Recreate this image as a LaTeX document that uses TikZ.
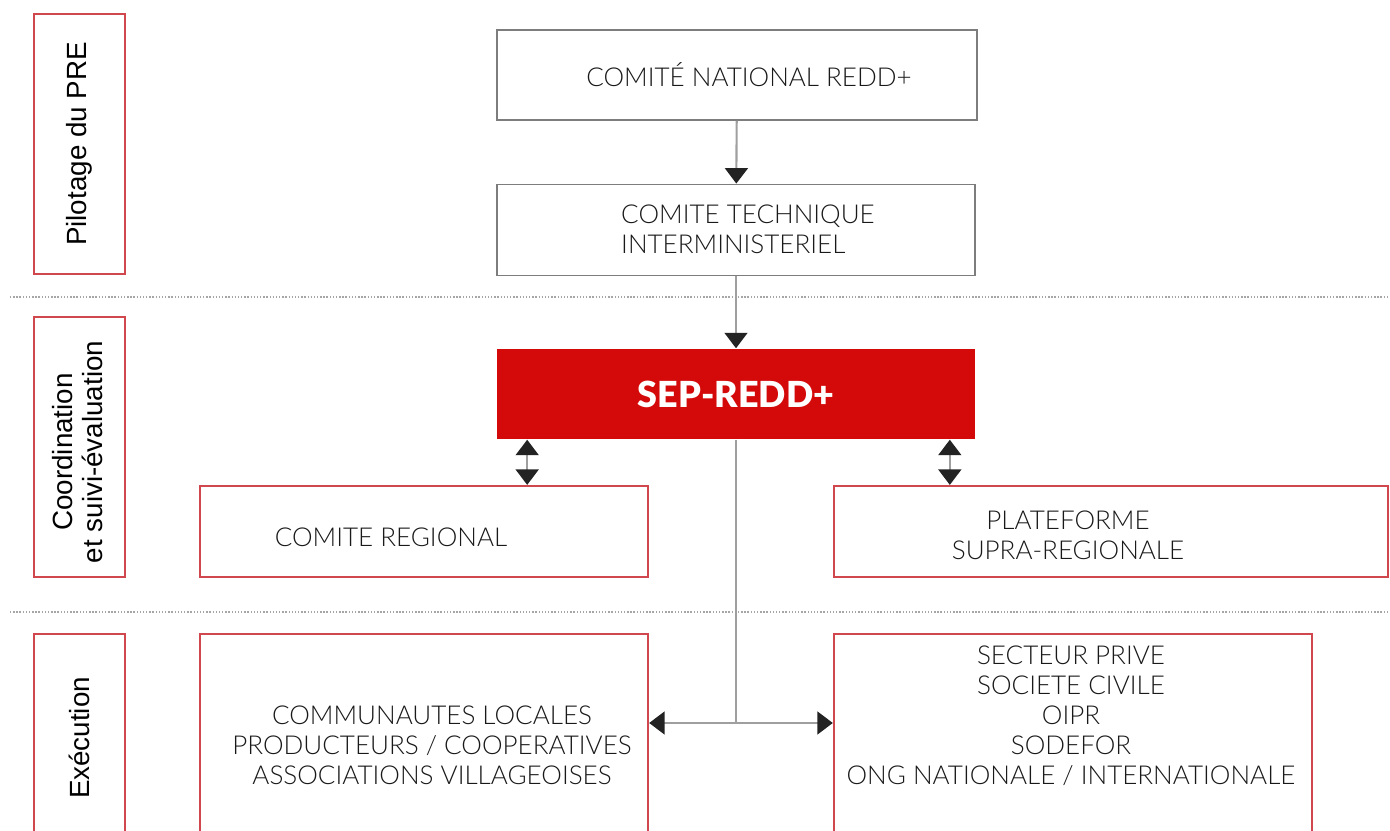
\documentclass[tikz,border=0pt]{standalone}
\usepackage{fontspec}
\setmainfont{Lato Light}[BoldFont=Lato Black]
\newfontfamily\sidefont{Liberation Sans}
\usetikzlibrary{arrows.meta,positioning}
\definecolor{sepred}{RGB}{212,10,10}
\definecolor{framered}{RGB}{208,72,78}
\definecolor{framegray}{RGB}{125,125,125}
\definecolor{tipdark}{RGB}{35,35,35}

\begin{document}
\begin{tikzpicture}[x=0.01cm, y=-0.01cm]
        \tikzstyle{block} = [rectangle, draw=framegray, line width=0.5pt, inner sep=0pt]
        \tikzstyle{redblock} = [rectangle, draw=framered, line width=0.6pt, inner sep=0pt]
        \tikzstyle{phase} = [redblock, minimum width=0.91cm]
        \tikzstyle{txt} = [inner sep=0pt, align=center, text=black!90, font=\fontsize{7.4}{8.5}\selectfont]
        \tikzstyle{side} = [inner sep=0pt, align=center, rotate=90, font=\sidefont\fontsize{7.9}{8.5}\selectfont]
        \tikzstyle{line} = [draw=gray!75, line width=0.6pt, -{Triangle[width=6.5pt,length=4.4pt,color=tipdark]}]
        \tikzstyle{both} = [line, {Triangle[width=6.5pt,length=4.4pt,color=tipdark]}-{Triangle[width=6.5pt,length=4.4pt,color=tipdark]}]

        \clip (0,0) rectangle (1390,831);

        % separations between levels
        \draw [gray!70, line width=0.5pt, dash pattern=on 0.4pt off 0.5pt] (10,297) -- (1390,297);
        \draw [gray!70, line width=0.5pt, dash pattern=on 0.4pt off 0.5pt] (10,612) -- (1390,612);

        % levels
        \node [phase, minimum height=2.6cm] (pil) at (79.5,144) {};
        \node [side] (piltxt) at (pil) {Pilotage du PRE};
        \node [phase, minimum height=2.6cm] (coo) at (79.5,447) {};
        \node [side] (cootxt) at (78,452) {Coordination\\et suivi-évaluation};
        \node [phase, minimum height=2.08cm] (exe) at (79.5,738) {};
        \node [side] (exetxt) at (exe) {Exécution};

        % boxes
        \node [block, minimum width=4.8cm, minimum height=0.9cm] (cnr) at (737,75) {};
        \node [txt] (cnrtxt) at (749,75) {COMITÉ NATIONAL REDD+};
        \node [block, minimum width=4.78cm, minimum height=0.91cm] (cti) at (736,230) {};
        \node [txt, align=left] (ctitxt) at (748,229) {COMITE TECHNIQUE\\INTERMINISTERIEL};
        \node [rectangle, fill=sepred, minimum width=4.78cm, minimum height=0.9cm, text=white,
               font=\fontsize{10.2}{12}\bfseries] (sep) at (736,394) {SEP-REDD+};

        \node [redblock, minimum width=4.48cm, minimum height=0.91cm] (reg) at (424,531.5) {};
        \node [txt] (regtxt) at (391,537) {COMITE REGIONAL};
        \node [redblock, minimum width=5.54cm, minimum height=0.91cm] (sup) at (1111,531.5) {};
        \node [txt] (suptxt) at (1068,535) {PLATEFORME\\SUPRA-REGIONALE};

        \node [redblock, minimum width=4.48cm, minimum height=2.4cm] (com) at (424,754) {};
        \node [txt] (comtxt) at (432,745) {COMMUNAUTES LOCALES\\PRODUCTEURS / COOPERATIVES\\ASSOCIATIONS VILLAGEOISES};
        \node [redblock, minimum width=4.78cm, minimum height=2.4cm] (sec) at (1073,754) {};
        \node [txt] (sectxt) at (1071,716) {SECTEUR PRIVE\\SOCIETE CIVILE\\OIPR\\SODEFOR\\ONG NATIONALE / INTERNATIONALE};

        % links
        \path [line] (cnr) -- (cti);
        \path [line] (cti) -- (sep);
        \draw [both] ([xshift=0.31cm]sep.south west) -- ([xshift=0.31cm]sep.south west |- reg.north);
        \draw [both] ([xshift=-0.26cm]sep.south east) -- ([xshift=-0.26cm]sep.south east |- sup.north);
        \coordinate (hub) at (736,723);
        \draw [draw=gray!75, line width=0.6pt] (sep.south) -- (hub);
        \draw [both] (com.east |- hub) -- (sec.west |- hub);
    \end{tikzpicture}
\end{document}
